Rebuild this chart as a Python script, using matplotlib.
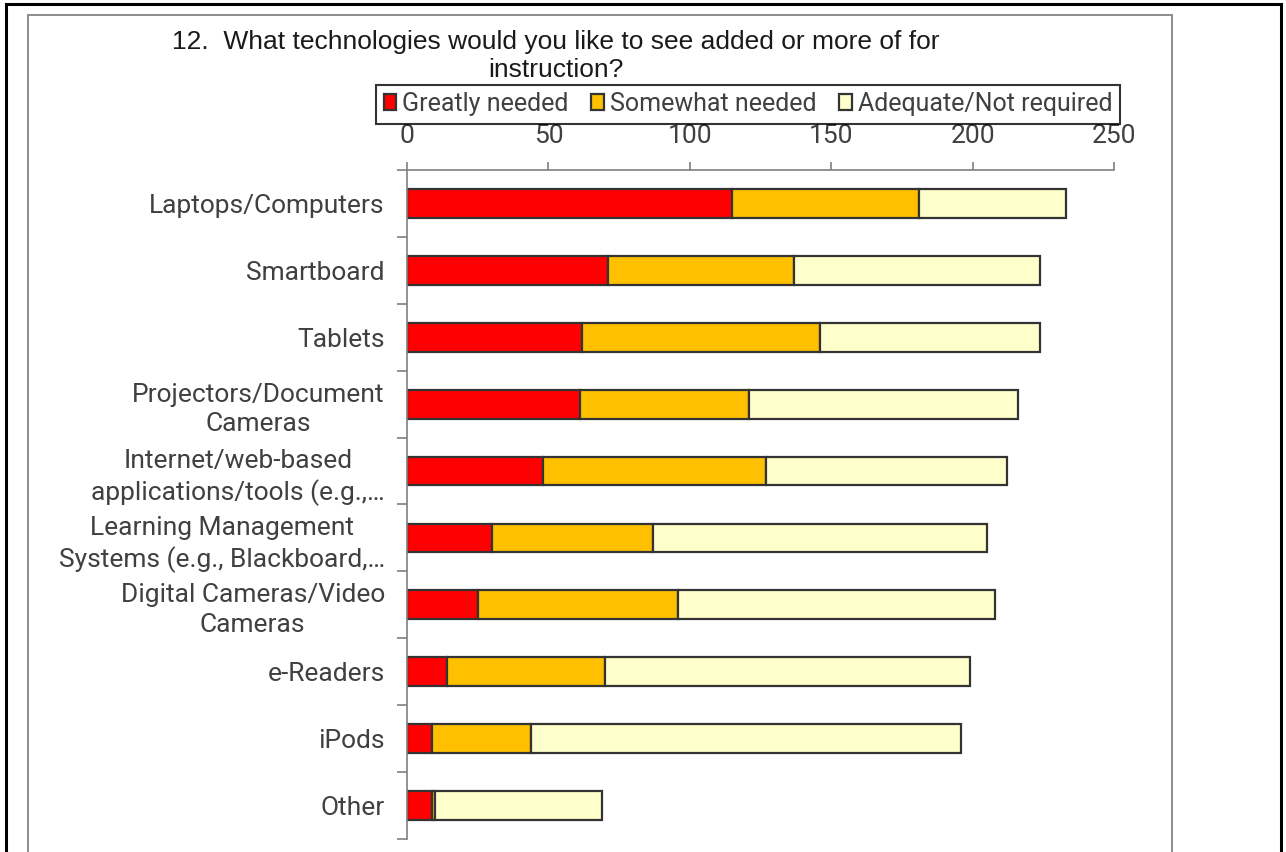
import matplotlib
matplotlib.use("Agg")
import matplotlib.pyplot as plt
from matplotlib.patches import Rectangle
import numpy as np

# categories, top to bottom
categories = [
    "Laptops/Computers",
    "Smartboard",
    "Tablets",
    "Projectors/Document\nCameras",
    "Internet/web-based\napplications/tools (e.g.,\u2026",
    "Learning Management\nSystems (e.g., Blackboard,\u2026",
    "Digital Cameras/Video\nCameras",
    "e-Readers",
    "iPods",
    "Other",
]
greatly = [115, 71, 62, 61, 48, 30, 25, 14, 9, 9]
somewhat = [66, 66, 84, 60, 79, 57, 71, 56, 35, 1]
adequate = [52, 87, 78, 95, 85, 118, 112, 129, 152, 59]
series_names = ["Greatly needed", "Somewhat needed", "Adequate/Not required"]
colors = ["#FF0000", "#FFC000", "#FFFFCC"]
x_ticks = [0, 50, 100, 150, 200, 250]

W, H = 1286, 852
fig = plt.figure(figsize=(W / 100, H / 100), dpi=100)
plt.rcParams["font.family"] = ["Roboto", "DejaVu Sans"]

# outer frames (extend past the bottom edge, like the cropped original)
fig.patches.append(Rectangle((6 / W, -0.1), 1275 / W, 1.1 - 4 / H,
                             transform=fig.transFigure, fill=False,
                             edgecolor="black", linewidth=2.2))
fig.patches.append(Rectangle((28 / W, -0.1), 1144 / W, 1.1 - 15 / H,
                             transform=fig.transFigure, fill=False,
                             edgecolor="#8C8C8C", linewidth=1.4))

ax = fig.add_axes([407 / W, 1 - 839 / H, 707 / W, 669 / H])

y = np.arange(len(categories))
left = np.zeros(len(categories))
bars = []
for vals, name, col in zip([greatly, somewhat, adequate], series_names, colors):
    b = ax.barh(y, vals, left=left, height=0.43, color=col,
                edgecolor="#333333", linewidth=1.6, label=name)
    bars.append(b)
    left += np.array(vals)

ax.set_xlim(0, 250)
ax.set_ylim(len(categories) - 0.5, -0.5)
ax.set_xticks(x_ticks)
ax.xaxis.tick_top()
ax.tick_params(axis="x", which="major", direction="out", length=6,
               width=1.2, color="#808080", pad=10, labelsize=19,
               labelcolor="#404040")

ax.set_yticks(y)
ax.set_yticklabels(categories, fontsize=19, color="#404040",
                   multialignment="center", linespacing=1.3)
ax.set_yticks(np.arange(len(categories) + 1) - 0.5, minor=True)
ax.tick_params(axis="y", which="major", length=0, pad=16)
ax.tick_params(axis="y", which="minor", direction="out", length=7,
               width=1.2, color="#808080")

for side in ["right", "bottom"]:
    ax.spines[side].set_visible(False)
for side in ["top", "left"]:
    ax.spines[side].set_color("#808080")
    ax.spines[side].set_linewidth(1.2)

leg = fig.legend(handles=bars, labels=series_names, loc="center",
                 bbox_to_anchor=(748 / W, 1 - 104 / H), ncol=3,
                 fontsize=18, frameon=True, fancybox=False,
                 edgecolor="black", handlelength=0.5, handleheight=0.6,
                 handletextpad=0.25, columnspacing=0.9, borderpad=0.3,
                 borderaxespad=0)
leg.get_frame().set_linewidth(1.5)
for t in leg.get_texts():
    t.set_color("#404040")

fig.text(556 / W, 1 - 56 / H,
         "12.  What technologies would you like to see added or more of for\ninstruction?",
         ha="center", va="center", fontsize=19, linespacing=1.2,
         color="#1a1a1a",
         family=["Liberation Sans Narrow", "Liberation Sans", "DejaVu Sans"])

fig.savefig("out.png", dpi=100)
